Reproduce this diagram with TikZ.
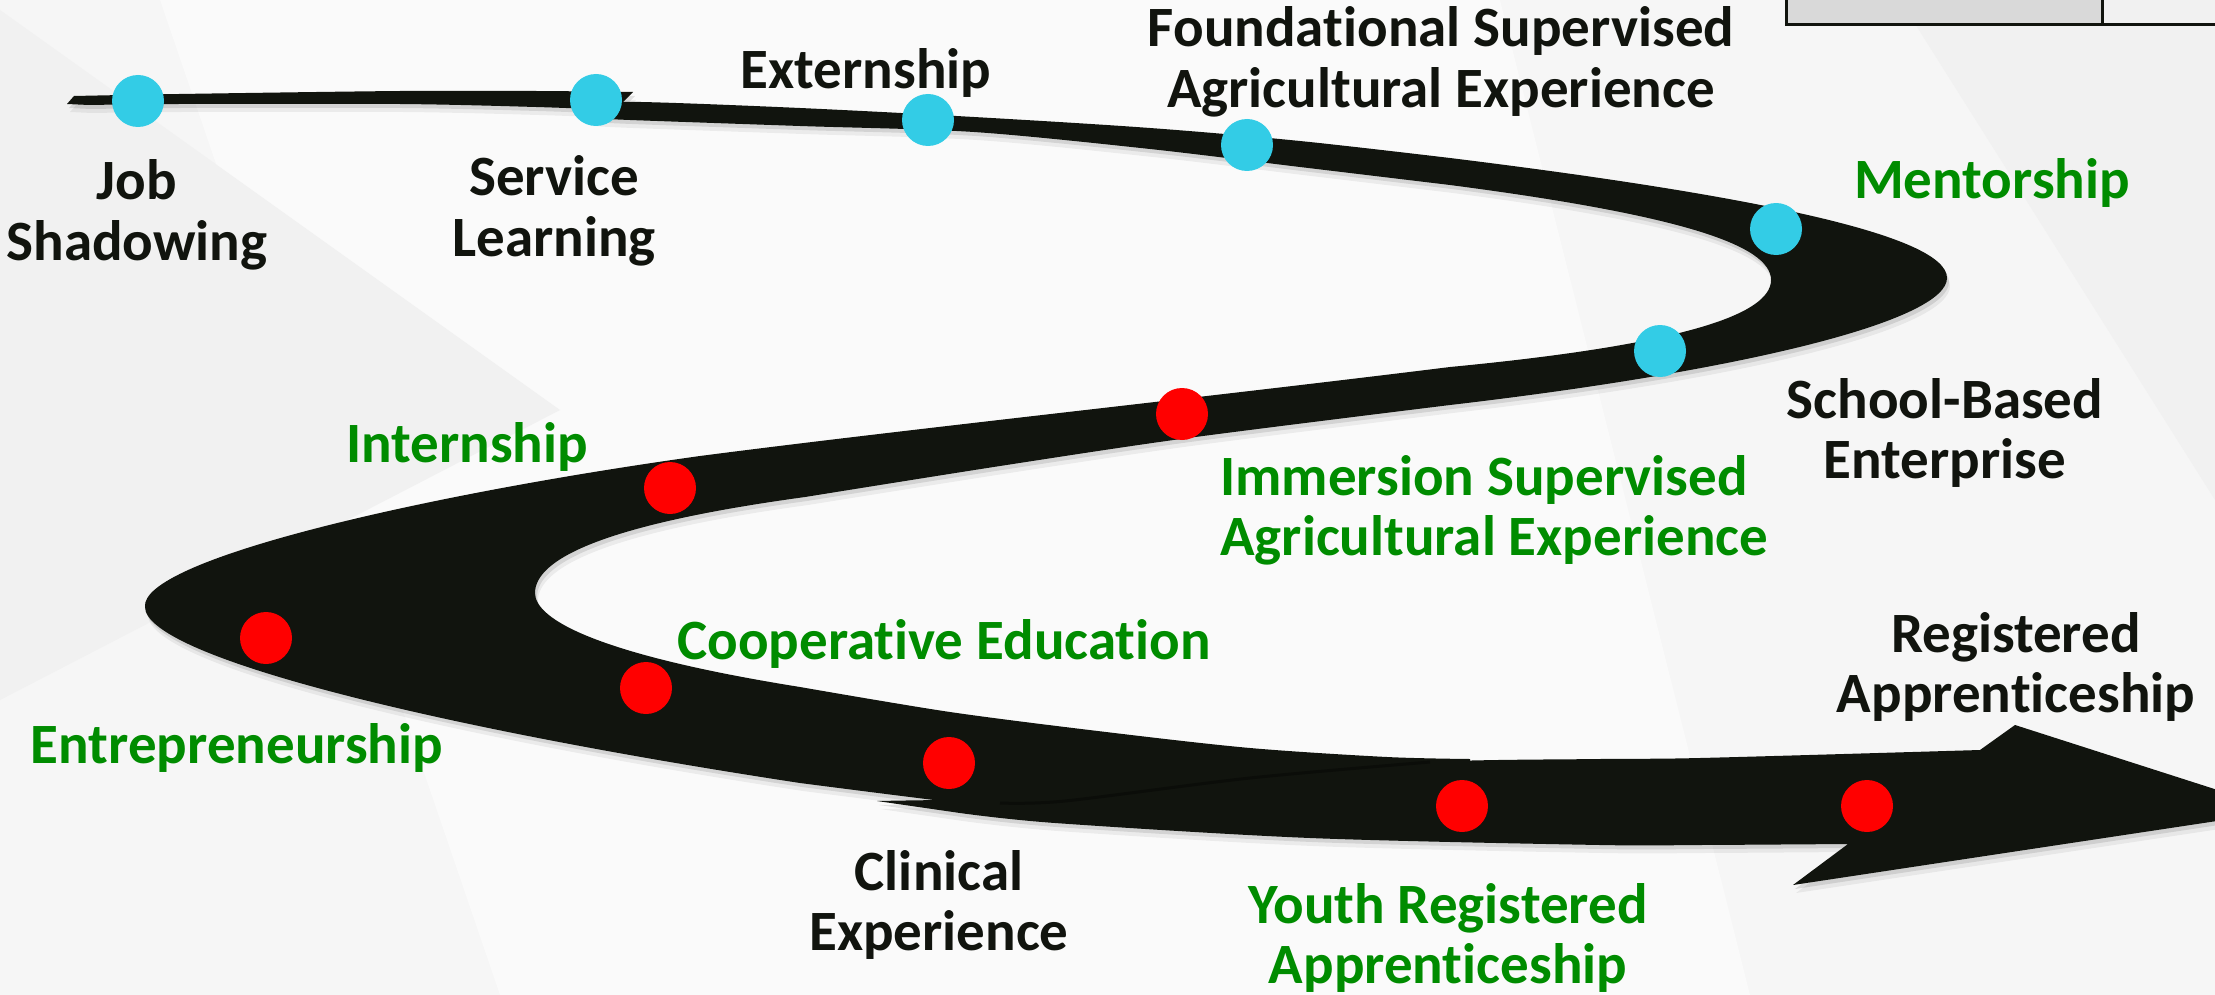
\documentclass[tikz,border=0pt]{standalone}
\usepackage{fontspec}
\setmainfont{Carlito}[Ligatures=NoCommon]
\usetikzlibrary{shapes.geometric}
\definecolor{band}{RGB}{17,20,14}
\definecolor{dotcyan}{RGB}{51,204,230}
\definecolor{dotred}{RGB}{255,0,0}
\definecolor{lblgreen}{RGB}{0,140,0}
\definecolor{bgbase}{RGB}{246,246,246}
\definecolor{bglight}{RGB}{250,250,250}
\definecolor{bgdark}{RGB}{241,241,241}
\definecolor{boxgray}{RGB}{217,217,217}
\newcommand\lblfont{\bfseries\fontsize{57}{60.5}\selectfont}
\newcommand\ribbonA{(67,104) -- (74,96) -- plot[smooth] coordinates {(74,96) (179,94) (400,91) (536,91) (633,92)} -- (615,110) -- plot[smooth] coordinates {(615,110) (536,107) (400,104) (179,104) (89,105)} -- cycle}
\newcommand\ribbonB{plot[smooth, tension=.55] coordinates {(590,104) (641,102) (800,108) (974,117) (1150,128) (1300,141) (1450,158)}
 .. controls (1750,195) and (1947,235) .. (1947,278)
 .. controls (1947,320) and (1750,370) .. (1450,405)
 -- plot[smooth] coordinates {(1450,405) (1188,438) (1000,466) (805,497)}
 .. controls (600,525) and (535,560) .. (535,593)
 .. controls (535,620) and (600,655) .. (800,687)
 -- plot[smooth] coordinates {(800,687) (950,712) (1106,732) (1250,748) (1387,757) (1470,759)}
 -- (1470,790) -- (1300,805) -- (1100,818)
 -- plot[smooth] coordinates {(1100,818) (1000,808) (894,795) (800,783)}
 .. controls (420,725) and (145,655) .. (145,607)
 .. controls (140,560) and (420,495) .. (700,456)
 .. controls (900,430) and (1200,398) .. (1450,367)
 .. controls (1680,345) and (1771,315) .. (1771,280)
 .. controls (1771,245) and (1680,215) .. (1450,185)
 -- plot[smooth] coordinates {(1450,185) (1300,167) (1150,149) (974,132) (800,126) (630,120) (590,118)} -- cycle}
\newcommand\ribbonC{(877,801) -- plot[smooth] coordinates {(877,801) (960,800) (1065,802) (1250,778) (1430,762) (1600,759) (1700,758) (1980,750)} -- (2015,725) -- (2283,811) -- (1793,885) -- (1848,844) -- plot[smooth] coordinates {(1848,844) (1700,845) (1600,845) (1310,838) (1055,823) (960,813)} -- cycle}
\tikzset{
  cdot/.style={circle, fill=dotcyan, minimum size=52pt, inner sep=0pt},
  rdot/.style={circle, fill=dotred, minimum size=52pt, inner sep=0pt},
  lbl/.style={font=\lblfont, text=band, inner sep=0pt, anchor=base},
  glbl/.style={lbl, text=lblgreen},
  shadowA/.style={fill=black, opacity=0.10},
  shadowB/.style={fill=black, opacity=0.06},
}
\begin{document}
\begin{tikzpicture}[x=1pt,y=-1pt]
\useasboundingbox (0,0) rectangle (2215,995);
\clip (0,0) rectangle (2215,995);
% background
\fill[bgbase] (0,0) rectangle (2215,995);
\fill[bglight] (160,0) -- (1500,0) -- (1750,995) -- (500,995) -- cycle;
\fill[bgdark] (0,10) -- (560,410) -- (0,700) -- cycle;
\fill[bgdark] (1900,0) -- (2215,0) -- (2215,500) -- cycle;
% box fragment top right
\fill[boxgray] (1786,-5) rectangle (2102,25);
\draw[band, line width=3pt] (1786,-5) -- (1786,25) -- (2102,25) -- (2102,-5);
\draw[band, line width=3pt] (2102,25) -- (2230,25);
% shadows
\begin{scope}[shift={(3,8)}]
\fill[shadowB] \ribbonA; \fill[shadowB] \ribbonB; \fill[shadowB] \ribbonC;
\end{scope}
\begin{scope}[shift={(2,4)}]
\fill[shadowA] \ribbonA; \fill[shadowA] \ribbonB; \fill[shadowA] \ribbonC;
\end{scope}
% ribbon
\fill[band] \ribbonB;
\fill[band] \ribbonA;
\fill[band] \ribbonC;
\draw[black, opacity=.35, line width=3pt] plot[smooth] coordinates {(1000,803) (1065,801) (1250,778) (1430,762)};
% dots
\node[cdot] (d1) at (138,101) {};
\node[cdot] (d2) at (596,100) {};
\node[cdot] (d3) at (928,120) {};
\node[cdot] (d4) at (1247,145) {};
\node[cdot] (d5) at (1776,229) {};
\node[cdot] (d6) at (1660,351) {};
\node[rdot] (d7) at (1182,414) {};
\node[rdot] (d8) at (670,488) {};
\node[rdot] (d9) at (266,638) {};
\node[rdot] (d10) at (646,688) {};
\node[rdot] (d11) at (949,763) {};
\node[rdot] (d12) at (1462,806) {};
\node[rdot] (d13) at (1867,806) {};
% labels
\node[lbl] (t1) at (137,200) {\begin{tabular}[t]{@{}c@{}}Job\\Shadowing\end{tabular}};
\node[lbl] (t2) at (554,196) {\begin{tabular}[t]{@{}c@{}}Service\\Learning\end{tabular}};
\node[lbl] (t3) at (866,89) {Externship};
\node[lbl] (t4) at (1441,47) {\begin{tabular}[t]{@{}c@{}}Foundational Supervised\\Agricultural Experience\end{tabular}};
\node[glbl] (t5) at (1992,199) {Mentorship};
\node[lbl] (t6) at (1945,418) {\begin{tabular}[t]{@{}c@{}}School-Based\\Enterprise\end{tabular}};
\node[glbl] (t7) at (1220,495) [anchor=base west] {\begin{tabular}[t]{@{}l@{}}Immersion Supervised\\Agricultural Experience\end{tabular}};
\node[glbl] (t8) at (467,462) {Internship};
\node[glbl] (t9) at (944,659) {Cooperative Education};
\node[glbl] (t10) at (237,763) {Entrepreneurship};
\node[lbl] (t11) at (939,890) {\begin{tabular}[t]{@{}c@{}}Clinical\\Experience\end{tabular}};
\node[glbl] (t12) at (1448,923) {\begin{tabular}[t]{@{}c@{}}Youth Registered\\Apprenticeship\end{tabular}};
\node[lbl] (t13) at (2016,652) {\begin{tabular}[t]{@{}c@{}}Registered\\Apprenticeship\end{tabular}};
\end{tikzpicture}
\end{document}
